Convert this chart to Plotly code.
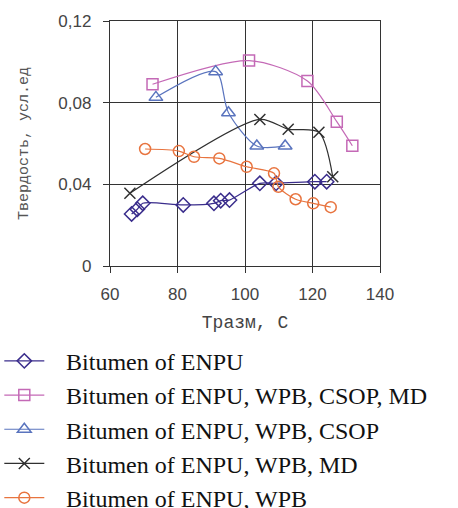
import plotly.graph_objects as go

# Data
enpu_x = [66.4, 68.1, 69.7, 81.7, 90.8, 92.8, 95.4, 104.4, 109.2, 120.7, 124.2]
enpu_y = [0.0255, 0.0278, 0.0307, 0.0299, 0.0307, 0.032, 0.0323, 0.0405, 0.0405, 0.0413, 0.0413]

full_x = [72.6, 101.2, 118.5, 127.2, 131.8]
full_y = [0.089, 0.1006, 0.0906, 0.0707, 0.0589]

csop_x = [73.6, 91.3, 95.1, 103.5, 111.9]
csop_y = [0.0826, 0.0952, 0.0751, 0.0588, 0.0588]

md_x = [65.9, 104.4, 112.8, 121.9, 126.0]
md_y = [0.0356, 0.0718, 0.067, 0.0655, 0.0437]

wpb_x = [70.4, 80.4, 84.9, 92.4, 100.5, 108.6, 109.9, 115.0, 120.2, 125.4]
wpb_y = [0.0573, 0.0563, 0.0535, 0.0527, 0.0486, 0.0454, 0.0388, 0.0327, 0.0307, 0.0288]

names = ["Bitumen of ENPU",
         "Bitumen of ENPU, WPB, CSOP, MD",
         "Bitumen of ENPU, WPB, CSOP",
         "Bitumen of ENPU, WPB, MD",
         "Bitumen of ENPU, WPB"]

x_ticks = [60, 80, 100, 120, 140]
x_ticktext = ["60", "80", "100", "120", "140"]
y_ticks = [0, 0.04, 0.08, 0.12]
y_ticktext = ["0", "0,04", "0,08", "0,12"]

series = [
    (enpu_x, enpu_y, "#3a2d8c", "diamond-open", 11),
    (full_x, full_y, "#c469b6", "square-open", 11),
    (csop_x, csop_y, "#5a74be", "triangle-up-open", 12),
    (md_x, md_y, "#303030", "x-thin-open", 11),
    (wpb_x, wpb_y, "#e8743f", "circle-open", 11),
]

fig = go.Figure()
for i, (xs, ys, col, sym, sz) in enumerate(series):
    fig.add_trace(go.Scatter(
        x=xs, y=ys, name="\u2002\u2009" + names[i], mode="lines+markers",
        line=dict(color=col, width=1.2, shape="spline", smoothing=0.8),
        marker=dict(symbol=sym, size=sz, color=col, line=dict(color=col, width=1.5)),
    ))

fig.update_layout(
    width=458, height=508,
    margin=dict(l=110, r=78, t=21, b=242, autoexpand=False),
    paper_bgcolor="white", plot_bgcolor="white",
    showlegend=True,
    legend=dict(
        x=-0.41, y=-0.297, xanchor="left", yanchor="top",
        font=dict(family="Liberation Serif", size=24, color="#111"),
        tracegroupgap=0, itemwidth=40,
        bgcolor="rgba(0,0,0,0)",
    ),
    xaxis=dict(
        range=[60, 140], tickvals=x_ticks, ticktext=x_ticktext,
        showgrid=True, gridcolor="#333", gridwidth=1.3,
        showline=True, linecolor="#333", linewidth=1.3, mirror=True,
        ticks="outside", ticklen=6, tickcolor="#333",
        tickfont=dict(family="Liberation Sans", size=17, color="#444"),
        ticklabelstandoff=6,
        title=dict(text="Тразм, С", font=dict(family="Liberation Mono", size=18, color="#444"), standoff=12),
        zeroline=False,
    ),
    yaxis=dict(
        range=[0, 0.12], tickvals=y_ticks, ticktext=y_ticktext,
        showgrid=True, gridcolor="#333", gridwidth=1.3,
        showline=True, linecolor="#333", linewidth=1.3, mirror=True,
        ticks="outside", ticklen=6, tickcolor="#333",
        tickfont=dict(family="Liberation Sans", size=17, color="#444"),
        ticklabelstandoff=8,
        title=dict(text="Твердость, усл.ед", font=dict(family="Liberation Mono", size=15, color="#555"), standoff=26),
        zeroline=False,
    ),
)

fig.write_html("out.html", config={"displayModeBar": False},
               post_script="document.body.style.margin='0';document.body.style.overflow='hidden';")
